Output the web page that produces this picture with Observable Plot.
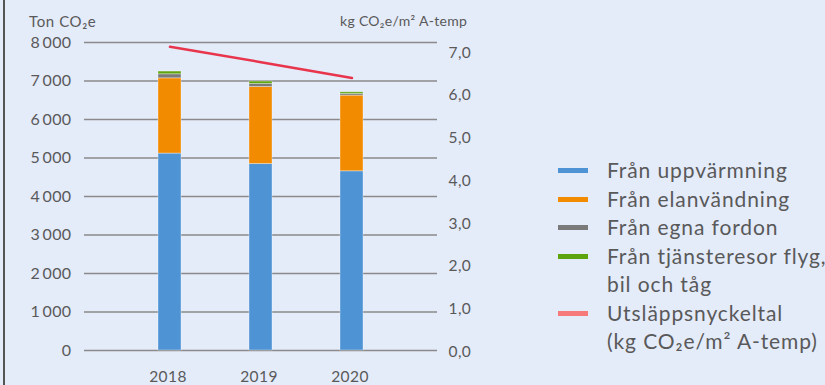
<!DOCTYPE html>
<html>
<head>
<meta charset="utf-8">
<script src="https://cdn.jsdelivr.net/npm/d3@7"></script>
<script src="https://cdn.jsdelivr.net/npm/@observablehq/plot@0.6"></script>
<style>
  html, body { margin: 0; padding: 0; }
  body { width: 825px; height: 385px; overflow: hidden; background: #e4ebf9; font-family: Lato, "Open Sans", sans-serif; }
  #wrap { position: relative; width: 825px; height: 385px; }
  #border { position: absolute; left: 3px; top: 0; width: 1.5px; height: 385px; background: #555; }
  .atitle { position: absolute; color: #595959; line-height: 16px; white-space: nowrap; }
  #legend { position: absolute; left: 558px; top: 156px; color: #595959; font-size: 21px; letter-spacing: 0.9px; }
  .row { position: relative; height: 28.5px; line-height: 28.5px; white-space: nowrap; }
  .sw { position: absolute; left: 0; top: 12px; width: 30px; height: 5px; }
  .lt { position: absolute; left: 49px; top: 0; }
  svg { position: absolute; left: 0; top: 0; }
  svg text { letter-spacing: 0.4px; }
</style>
</head>
<body>
<div id="wrap">
  <div id="border"></div>
  <div class="atitle" id="tl" style="left:29px; top:13px; font-size:15px; letter-spacing:0.6px;"></div>
  <div class="atitle" id="tr" style="left:340px; top:13px; font-size:14px; letter-spacing:0.3px;"></div>
  <div id="legend"></div>
</div>
<script>
// ---- data ----
const years = ["2018", "2019", "2020"];
const heating = [5115, 4845, 4655];      // Från uppvärmning
const electricity = [1955, 2000, 1965];  // Från elanvändning
const vehicles = [105, 78, 42];          // Från egna fordon
const travel = [70, 62, 44];             // Från tjänsteresor flyg, bil och tåg
const intensity = [7.10, 6.74, 6.37];    // Utsläppsnyckeltal (kg CO2e/m2 A-temp)
const leftTicks = [0, 1000, 2000, 3000, 4000, 5000, 6000, 7000, 8000];
const rightTicks = [0, 1, 2, 3, 4, 5, 6, 7];
const seriesNames = ["Från uppvärmning", "Från elanvändning", "Från egna fordon", "Från tjänsteresor flyg, bil och tåg"];
const seriesColors = ["#4e93d4", "#f28b00", "#7a7a7a", "#5ea40e"];
const lineName = "Utsläppsnyckeltal (kg CO₂e/m² A-temp)";
const lineColor = "#e8354c";
const legendLabels = [
  ["Från uppvärmning"],
  ["Från elanvändning"],
  ["Från egna fordon"],
  ["Från tjänsteresor flyg,", "bil och tåg"],
  ["Utsläppsnyckeltal", "(kg CO₂e/m² A-temp)"]
];
const legendColors = ["#4e93d4", "#f28b00", "#7a7a7a", "#5ea40e", "#f77a7a"];
const leftTitle = "Ton CO₂e";
const rightTitle = "kg CO₂e/m² A-temp";

// ---- build ----
const leftMax = 8000, rightMax = 7.2;
const k = leftMax / rightMax;
const series = [heating, electricity, vehicles, travel];
const rows = [];
series.forEach((vals, si) => vals.forEach((v, i) => rows.push({year: years[i], series: seriesNames[si], value: v})));
const lineRows = years.map((y, i) => ({year: y, value: intensity[i] * k}));

const fmtThousands = d => d >= 1000 ? String(Math.floor(d / 1000)) + "\u2009" + String(d % 1000).padStart(3, "0") : String(d);

const chart = Plot.plot({
  width: 825,
  height: 385,
  marginLeft: 84,
  marginRight: 388,
  marginTop: 42,
  marginBottom: 35,
  style: {background: "transparent", fontFamily: "Lato, 'Open Sans', sans-serif", color: "#595959"},
  x: {type: "band", domain: years, paddingInner: 0.75, paddingOuter: 0.375, insetLeft: 39.5, insetRight: 40.5, axis: null},
  y: {domain: [0, leftMax], axis: null},
  color: {domain: seriesNames, range: seriesColors},
  marks: [
    Plot.ruleY(leftTicks, {stroke: "#8a8a8a", strokeWidth: 1.5}),
    Plot.barY(rows, {x: "year", y: "value", fill: "series", stroke: "#ffffff", strokeOpacity: 0.35, strokeWidth: 1}),
    Plot.line(lineRows, {x: "year", y: "value", stroke: lineColor, strokeWidth: 2.5}),
    Plot.axisY({anchor: "left", ticks: leftTicks, tickSize: 0, tickPadding: 13, tickFormat: fmtThousands, fontSize: 16, label: null}),
    Plot.axisY({anchor: "right", ticks: rightTicks.map(v => v * k), tickSize: 0, tickPadding: 11, dy: 1.5,
      tickFormat: d => (d / k).toFixed(1).replace(".", ","), fontSize: 15.5, label: null}),
    Plot.axisX({anchor: "bottom", tickSize: 0, tickPadding: 20, dx: -2, fontSize: 15.5, label: null})
  ]
});
document.getElementById("wrap").appendChild(chart);

document.getElementById("tl").textContent = leftTitle;
document.getElementById("tr").textContent = rightTitle;

const legend = document.getElementById("legend");
legendLabels.forEach((lines, i) => {
  lines.forEach((txt, j) => {
    const r = document.createElement("div");
    r.className = "row";
    if (j === 0) {
      const s = document.createElement("div");
      s.className = "sw";
      s.style.background = legendColors[i];
      r.appendChild(s);
    }
    const t = document.createElement("div");
    t.className = "lt";
    t.textContent = txt;
    r.appendChild(t);
    legend.appendChild(r);
  });
});
</script>
</body>
</html>
